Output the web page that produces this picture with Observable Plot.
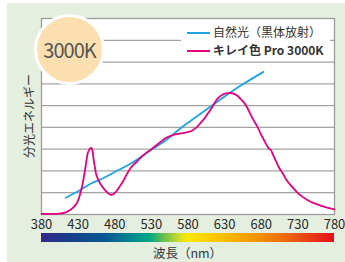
<!DOCTYPE html>
<html><head><meta charset="utf-8">
<script src="https://cdn.jsdelivr.net/npm/d3@7"></script>
<script src="https://cdn.jsdelivr.net/npm/@observablehq/plot@0.6"></script>
<style>
html,body{margin:0;padding:0;background:#fff;}
#wrap{position:relative;width:345px;height:262px;overflow:hidden;font-family:"Noto Sans CJK JP","Noto Sans",sans-serif;}
#panel{position:absolute;left:7px;top:3px;right:0;bottom:0;background:#e5efdf;}
#chart{position:absolute;left:0;top:0;}
#legend{position:absolute;left:181px;top:20px;width:149px;height:39px;background:#fff;}
.li{position:absolute;left:6px;height:16px;font-size:12px;color:#333;line-height:16px;white-space:nowrap;}
.li span.sw{display:inline-block;width:23px;height:2px;vertical-align:middle;margin-right:3px;position:relative;top:-1px;}
#badge{position:absolute;left:34px;top:14px;width:65px;height:65px;border-radius:50%;border:3px solid #fff;background:#fcdfb0;color:#555;font-size:20px;display:flex;align-items:center;justify-content:center;letter-spacing:-1px;font-family:"Noto Sans CJK JP","Noto Sans",sans-serif;}
</style></head>
<body>
<div id="wrap">
<div id="panel"></div>
<div id="chart"></div>
<div id="legend"></div>
<div id="badge"></div>
</div>
<script>
const xTicks = [380,430,480,530,580,630,680,730,780];
const gridLevels = [1,2,3,4,5,6,7,8];
const seriesNames = ["自然光（黒体放射）","キレイ色 Pro 3000K"];
const badgeLabel = "3000K";
const yLabel = "分光エネルギー";
const xLabel = "波長（nm）";

// blackbody (natural light) curve
const bbNm  = [413,430,447,460,480,506,530,552,570,590,611,630,652,668,683];
const bbVal = [0.77,1.07,1.41,1.6,1.95,2.42,2.97,3.47,3.96,4.45,4.96,5.42,5.92,6.25,6.55];

// Kirei-iro Pro 3000K spectrum
const ledNm  = [380,395,405,413,418,422,426,429,433,437,440,443,446,448,450,451,453,454,456,458,461,465,469,472,475,479,483,487,492,496,501,506,511,515,520,530,542,550,560,570,579,586,592,597,602,608,613,620,627,632,638,643,647,652,656,661,665,670,675,680,684,688,691,693,696,700,704,710,715,722,729,736,743,752,761,770,780];
const ledVal = [0.03,0.03,0.04,0.1,0.18,0.28,0.42,0.57,0.96,1.56,2.17,2.8,3.02,3.06,2.85,2.57,2.15,1.94,1.72,1.56,1.38,1.19,1.04,0.95,0.9,0.95,1.1,1.3,1.56,1.82,2.1,2.3,2.45,2.6,2.75,3.0,3.32,3.52,3.65,3.72,3.78,3.86,4.01,4.2,4.39,4.68,4.93,5.31,5.5,5.56,5.58,5.54,5.46,5.3,5.16,4.9,4.62,4.3,4.01,3.65,3.4,3.15,3.0,2.97,2.75,2.45,2.17,1.85,1.56,1.28,1.02,0.82,0.67,0.52,0.41,0.32,0.24];

const bb = bbNm.map((x,i)=>({x, y:bbVal[i]}));
const led = ledNm.map((x,i)=>({x, y:ledVal[i]}));

const BLUE = "#1fa3e3", PINK = "#e4007f";
const font = "'Noto Sans CJK JP','Noto Sans',sans-serif";

const plot = Plot.plot({
  width:345, height:262,
  marginLeft:41, marginRight:11, marginTop:18, marginBottom:48,
  style:{background:"transparent", fontFamily:font, fontSize:"13px", color:"#333"},
  x:{domain:[380,780], label:null},
  y:{domain:[0,9], axis:null},
  marks:[
    Plot.frame({fill:"#fff"}),
    Plot.ruleY(gridLevels, {stroke:"#a3a3a3", strokeWidth:1.3}),
    Plot.frame({stroke:"#9c9c9c", strokeWidth:1.3}),
    Plot.line(bb, {x:"x", y:"y", stroke:BLUE, strokeWidth:1.8, curve:"monotone-x"}),
    Plot.line(led, {x:"x", y:"y", stroke:PINK, strokeWidth:1.8, curve:"monotone-x"}),
    Plot.axisX({ticks:xTicks, tickSize:0, tickPadding:5, fontSize:13, fill:"#2a2a2a", tickFormat:d=>String(d)})
  ]
});
document.getElementById("chart").appendChild(plot);

// spectrum colour bar aligned with x scale
const xs = plot.scale("x");
const svg = d3.select(plot);
const stops = [[0,"#34288a"],[0.1,"#163f8c"],[0.22,"#055a92"],[0.33,"#00938f"],[0.37,"#00a883"],[0.42,"#6cbf4f"],[0.47,"#c9dc2a"],[0.5,"#fae900"],[0.6,"#fcc600"],[0.72,"#f39a00"],[0.83,"#ec6b0d"],[1,"#e50f1c"]];
const grad = svg.append("defs").append("linearGradient").attr("id","spec");
stops.forEach(([o,c])=>grad.append("stop").attr("offset",o).attr("stop-color",c));
const x0 = xs.apply(xTicks[0]), x1 = xs.apply(xTicks[xTicks.length-1]);
svg.append("rect").attr("x",x0).attr("y",233).attr("width",x1-x0).attr("height",9).attr("fill","url(#spec)");
svg.append("text").attr("x",(x0+x1)/2).attr("y",252).attr("text-anchor","middle").attr("dominant-baseline","central")
  .attr("font-size",12.5).attr("fill","#333").text(xLabel);
svg.append("text").attr("transform","translate(28,116) rotate(-90)").attr("text-anchor","middle").attr("dominant-baseline","central")
  .attr("font-size",12).attr("fill","#333").text(yLabel);

// legend
const lg = document.getElementById("legend");
[[BLUE,"normal",4],[PINK,"bold",22]].forEach(([c,w,t],i)=>{
  const d = document.createElement("div");
  d.className="li"; d.style.top=t+"px"; d.style.fontWeight=w;
  d.innerHTML = `<span class="sw" style="background:${c}"></span>`;
  d.appendChild(document.createTextNode(seriesNames[i]));
  lg.appendChild(d);
});
document.getElementById("badge").textContent = badgeLabel;
</script>
</body></html>
